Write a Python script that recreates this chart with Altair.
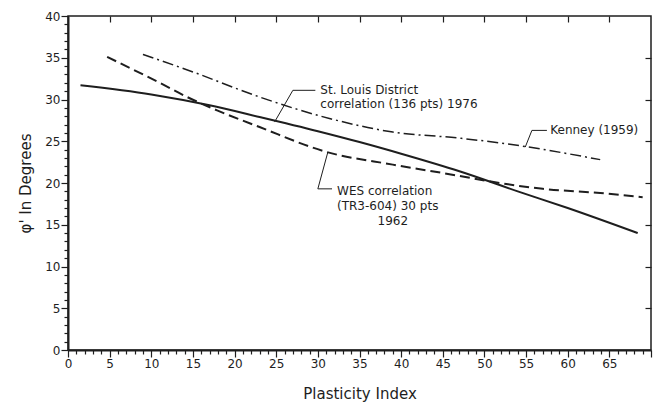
import altair as alt
import pandas as pd

# ---- data ----
pi_stl = [1.5, 10, 17, 23, 30, 35, 40, 47, 54, 60, 68.4]
phi_stl = [31.7, 30.6, 29.3, 27.9, 26.2, 24.9, 23.5, 21.4, 19.0, 17.0, 14.0]

pi_wes = [4.7, 11, 14.3, 17.9, 23, 31.1, 39, 46.7, 50, 57, 63.9, 69]
phi_wes = [35.1, 32.0, 30.3, 28.7, 26.7, 23.7, 22.2, 20.9, 20.3, 19.3, 18.8, 18.3]

pi_ken = [9, 15, 23, 31.5, 39, 46.7, 51.9, 63.9]
phi_ken = [35.4, 33.3, 30.3, 27.7, 26.1, 25.4, 24.8, 22.8]

# annotation leaders (data units) and labels
lead_stl_x = [24.8, 27.0, 29.7]
lead_stl_y = [27.3, 31.1, 31.1]
lead_wes_x = [31.2, 30.0, 31.7]
lead_wes_y = [23.7, 19.3, 19.3]
lead_ken_x = [54.9, 55.7, 57.5]
lead_ken_y = [24.3, 26.3, 26.3]

label_text = ["St. Louis District", "correlation (136 pts) 1976",
              "WES correlation", "(TR3-604) 30 pts", "Kenney (1959)"]
label_x = [30.3, 30.3, 32.3, 32.3, 57.9]
label_y = [31.1, 29.5, 19.1, 17.2, 26.3]
year_text = ["1962"]
year_x = [39.0]
year_y = [15.5]

x_ticks = list(range(0, 71))
y_ticks = list(range(0, 41))
x_major = list(range(5, 70, 5))
y_major = list(range(5, 40, 5))

INK = "#1e1e1e"
FONT = "DejaVu Sans"

def series_df(xs, ys):
    return pd.DataFrame({"pi": xs, "phi": ys, "ord": list(range(len(xs)))})

xscale = alt.Scale(domain=[0, 70], nice=False, zero=False)
yscale = alt.Scale(domain=[0, 40], nice=False, zero=False)

bottom_axis = alt.Axis(
    values=x_ticks, grid=False, title="Plasticity Index",
    tickSize={"condition": {"test": "datum.value % 5 === 0", "value": 7}, "value": 4},
    labelExpr="datum.value % 5 === 0 && datum.value < 70 ? datum.label : ''",
    labelOverlap=False, labelFlush=False, labelFont=FONT, labelFontSize=12,
    labelColor=INK, labelPadding=1, titleFont=FONT, titleFontSize=15,
    titleFontWeight="normal", titleColor=INK, titlePadding=17,
    domainColor=INK, domainWidth=2, tickColor=INK, tickWidth=1.2,
)
left_axis = alt.Axis(
    values=y_ticks, grid=False, title="\u03c6' In Degrees",
    tickSize={"condition": {"test": "datum.value % 5 === 0", "value": 7}, "value": 4},
    labelExpr="datum.value % 5 === 0 ? datum.label : ''",
    labelOverlap=False, labelFlush=False, labelFont=FONT, labelFontSize=12,
    labelColor=INK, labelPadding=1, titleFont=FONT, titleFontSize=15,
    titleFontWeight="normal", titleColor=INK, titlePadding=11,
    domainColor=INK, domainWidth=2, tickColor=INK, tickWidth=1.2,
)
top_axis = alt.Axis(orient="top", values=x_major, labels=False, domain=False,
                    grid=False, title=None, tickSize=6, offset=-6,
                    tickColor=INK, tickWidth=1.2)
right_axis = alt.Axis(orient="right", values=y_major, labels=False, domain=False,
                      grid=False, title=None, tickSize=6, offset=-6,
                      tickColor=INK, tickWidth=1.2)

def line_layer(df, width, dash=None, xaxis=None, yaxis=None):
    kw = dict(color=INK, strokeWidth=width, interpolate="monotone")
    if dash is not None:
        kw["strokeDash"] = dash
    return alt.Chart(df).mark_line(**kw).encode(
        x=alt.X("pi:Q", scale=xscale, axis=xaxis),
        y=alt.Y("phi:Q", scale=yscale, axis=yaxis),
    )

stl = line_layer(series_df(pi_stl, phi_stl), 2.0, None, bottom_axis, left_axis)
wes = line_layer(series_df(pi_wes, phi_wes), 2.0, [10, 5], top_axis, right_axis)
ken = line_layer(series_df(pi_ken, phi_ken), 1.5, [11, 4, 2, 4])

def leader(xs, ys):
    return alt.Chart(series_df(xs, ys)).mark_line(color=INK, strokeWidth=1).encode(
        x=alt.X("pi:Q", scale=xscale, axis=None),
        y=alt.Y("phi:Q", scale=yscale, axis=None),
        order="ord:Q",
    )

labels_df = pd.DataFrame({"t": label_text, "pi": label_x, "phi": label_y})
labels = alt.Chart(labels_df).mark_text(
    align="left", baseline="middle", font=FONT, fontSize=12, color=INK
).encode(
    x=alt.X("pi:Q", scale=xscale, axis=None),
    y=alt.Y("phi:Q", scale=yscale, axis=None),
    text="t:N",
)
year_df = pd.DataFrame({"t": year_text, "pi": year_x, "phi": year_y})
year = alt.Chart(year_df).mark_text(
    align="center", baseline="middle", font=FONT, fontSize=12, color=INK
).encode(
    x=alt.X("pi:Q", scale=xscale, axis=None),
    y=alt.Y("phi:Q", scale=yscale, axis=None),
    text="t:N",
)

chart = alt.layer(
    stl, wes, ken,
    leader(lead_stl_x, lead_stl_y), leader(lead_wes_x, lead_wes_y),
    leader(lead_ken_x, lead_ken_y), labels, year,
).resolve_axis(x="independent", y="independent").properties(
    width=583, height=334,
    autosize=alt.AutoSizeParams(type="none"),
    padding={"left": 60, "top": 8, "right": 3, "bottom": 56},
    background="white",
).configure_view(stroke=INK, strokeWidth=1.5)

chart.save("out.html", embed_options={"renderer": "svg", "actions": False})
